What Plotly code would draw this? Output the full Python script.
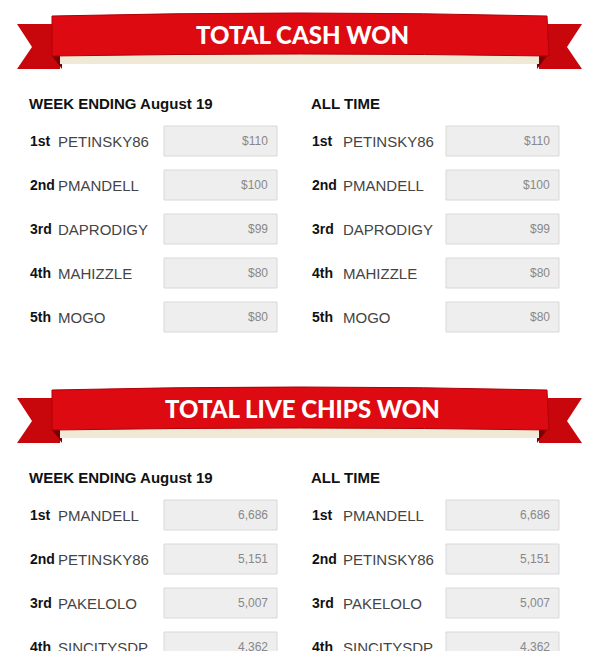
import plotly.graph_objects as go

ranks = ["1st", "2nd", "3rd", "4th", "5th"]
cash_week_names = ["PETINSKY86", "PMANDELL", "DAPRODIGY", "MAHIZZLE", "MOGO"]
cash_week_vals = ["$110", "$100", "$99", "$80", "$80"]
cash_all_names = ["PETINSKY86", "PMANDELL", "DAPRODIGY", "MAHIZZLE", "MOGO"]
cash_all_vals = ["$110", "$100", "$99", "$80", "$80"]
chips_week_names = ["PMANDELL", "PETINSKY86", "PAKELOLO", "SINCITYSDP"]
chips_week_vals = ["6,686", "5,151", "5,007", "4,362"]
chips_all_names = ["PMANDELL", "PETINSKY86", "PAKELOLO", "SINCITYSDP"]
chips_all_vals = ["6,686", "5,151", "5,007", "4,362"]
titles = ["TOTAL CASH WON", "TOTAL LIVE CHIPS WON"]
col_heads = ["WEEK ENDING August 19", "ALL TIME"]

W, H = 599, 651
OFF = 8  # page body margin
fig = go.Figure()
shapes, ann = [], []

def ribbon(y0, title):
    for side in (0, 1):
        if side == 0:
            tail = f"M 17 {y0+12} L 60 {y0+12} L 60 {y0+57} L 17 {y0+57} L 32 {y0+35} Z"
            fold = f"M 52 {y0+44} L 62 {y0+44} L 62 {y0+57} Z"
        else:
            tail = f"M 582 {y0+12} L 539 {y0+12} L 539 {y0+57} L 582 {y0+57} L 567 {y0+35} Z"
            fold = f"M 547 {y0+44} L 537 {y0+44} L 537 {y0+57} Z"
        shapes.append(dict(type="path", path=tail, fillcolor="#c8070d", line=dict(width=0), layer="below"))
        shapes.append(dict(type="path", path=fold, fillcolor="#7a0206", line=dict(width=0), layer="below"))
    shapes.append(dict(type="rect", x0=60, x1=539, y0=y0+42, y1=y0+52, fillcolor="#efe9d6", line=dict(width=0), layer="below"))
    band = (f"M 52 {y0+4} Q 300 {y0-2} 547 {y0+4} L 549 {y0+44} "
            f"Q 300 {y0+40} 52 {y0+44} Z")
    shapes.append(dict(type="path", path=band, fillcolor="#dd0a12", line=dict(color="#b00008", width=1), layer="below"))
    ann.append(dict(x=302, y=y0+22, text=title, showarrow=False, xanchor="center", yanchor="middle",
                    font=dict(family="Lato", size=24, color="white", weight=900)))

def column(x_rank, x_name, x_box, y_head, y_first, head, names, vals):
    ann.append(dict(x=x_rank - 3, y=y_head, text=head, showarrow=False, xanchor="left", yanchor="middle",
                    font=dict(family="Liberation Sans", size=15, color="#111", weight="bold")))
    for i, (n, v) in enumerate(zip(names, vals)):
        y = y_first + 44 * i
        ann.append(dict(x=x_rank - 2, y=y, text=ranks[i], showarrow=False, xanchor="left", yanchor="middle",
                        font=dict(family="Liberation Sans", size=14, color="#111", weight="bold")))
        ann.append(dict(x=x_name - 1, y=y, text=n, showarrow=False, xanchor="left", yanchor="middle",
                        font=dict(family="Liberation Sans", size=15, color="#444")))
        shapes.append(dict(type="rect", x0=x_box, x1=x_box + 113, y0=y - 15, y1=y + 15,
                           fillcolor="#eeeeee", line=dict(color="#d8d8d8", width=1), layer="below"))
        ann.append(dict(x=x_box + 106, y=y, text=v, showarrow=False, xanchor="right", yanchor="middle",
                        font=dict(family="Liberation Sans", size=12, color="#888")))

ribbon(12, titles[0])
column(30, 57, 164, 103, 141, col_heads[0], cash_week_names, cash_week_vals)
column(312, 342, 446, 103, 141, col_heads[1], cash_all_names, cash_all_vals)
ribbon(386, titles[1])
column(30, 57, 164, 477, 515, col_heads[0], chips_week_names, chips_week_vals)
column(312, 342, 446, 477, 515, col_heads[1], chips_all_names, chips_all_vals)

fig.update_layout(width=W, height=H, margin=dict(l=0, r=0, t=0, b=0),
                  paper_bgcolor="white", plot_bgcolor="white",
                  xaxis=dict(range=[OFF, W + OFF], visible=False, fixedrange=True),
                  yaxis=dict(range=[H + OFF, OFF], visible=False, fixedrange=True),
                  shapes=shapes, annotations=ann, showlegend=False)
fig.write_html("out.html", config={"displayModeBar": False})
